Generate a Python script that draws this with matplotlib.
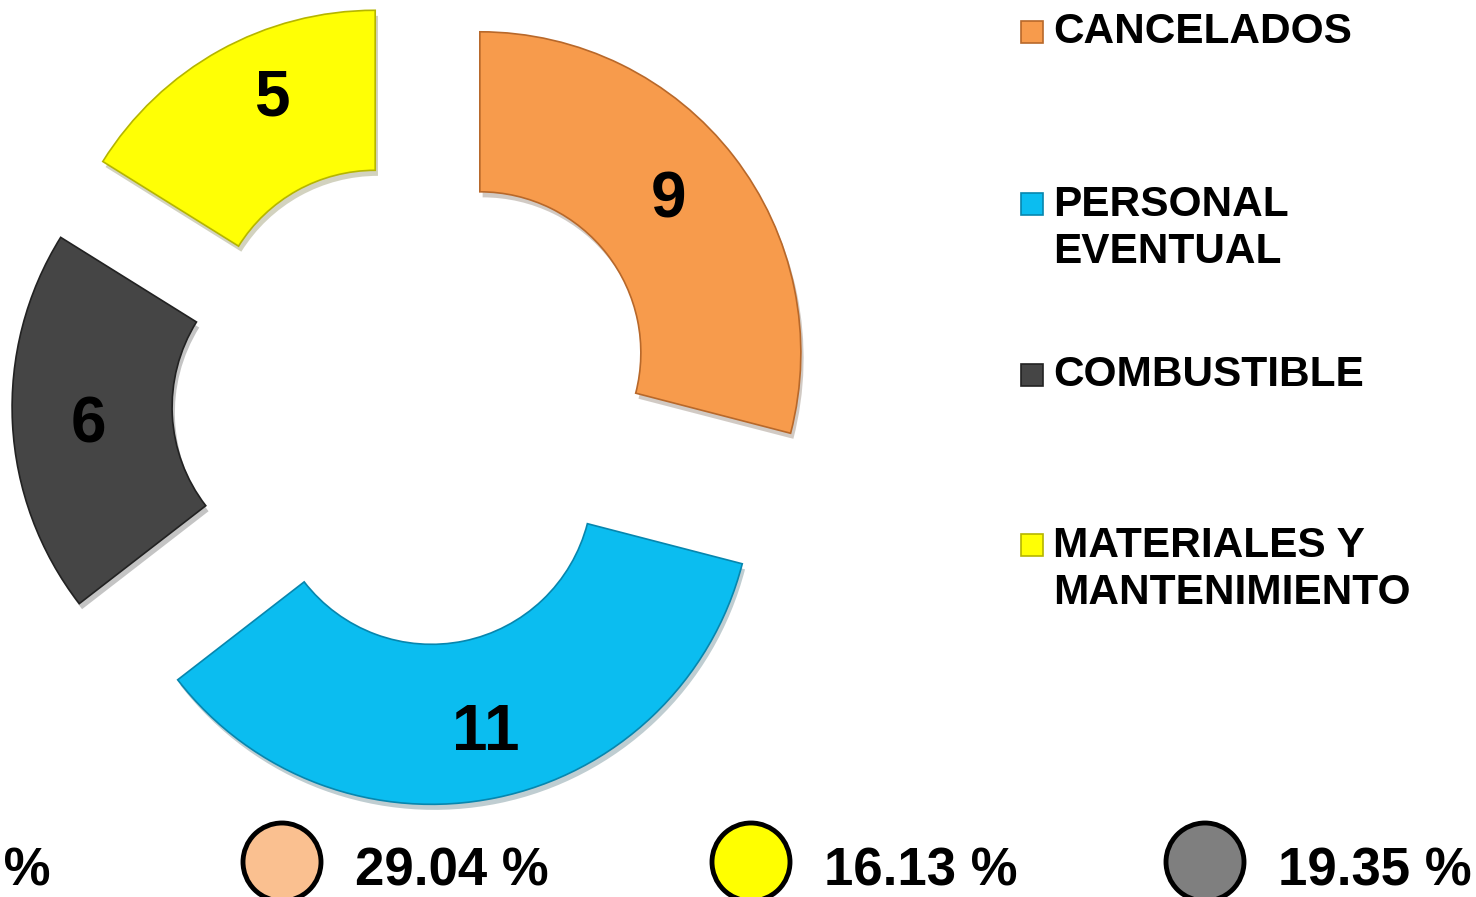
import matplotlib.pyplot as plt
import matplotlib.patheffects as pe
from matplotlib.patches import Rectangle, Ellipse

# data
categories = ['CANCELADOS', 'PERSONAL\nEVENTUAL', 'COMBUSTIBLE', 'MATERIALES Y\nMANTENIMIENTO']
values = [9, 11, 6, 5]
colors = ['#F79B4C', '#0BBDF0', '#454545', '#FFFF05']
edge_colors = ['#B8682A', '#0786AE', '#222222', '#B5B500']

pct_labels = ['35.48 %', '29.04 %', '16.13 %', '19.35 %']
pct_colors = ['#00B0F0', '#FAC090', '#FFFF00', '#7F7F7F']

W, H = 1476, 897
fig = plt.figure(figsize=(W / 100, H / 100), dpi=100)
ax = fig.add_axes([0, 0, 1, 1])

total = sum(values)
wedges, texts, autotexts = ax.pie(
    values, colors=colors, startangle=90, counterclock=False,
    center=(415, H - 403), radius=321, explode=[82] * len(values),
    wedgeprops=dict(width=160, linewidth=1.2),
    autopct=lambda p: f'{round(p * total / 100):d}', pctdistance=0.75,
    textprops=dict(fontsize=46, fontweight='bold', family='Liberation Sans', color='black'))

for w, ec in zip(wedges, edge_colors):
    w.set_edgecolor(ec)
    w.set_path_effects([pe.SimplePatchShadow(offset=(2, -4), alpha=0.25), pe.Normal()])

# nudge the value labels a little, like the original layout
label_shift = [(-2, 5), (6, -14), (-4, -6), (13, 22)]
for t, (dx, dy) in zip(autotexts, label_shift):
    x, y = t.get_position()
    t.set_position((x + dx, y + dy))

ax.set_xlim(0, W)
ax.set_ylim(0, H)
ax.set_aspect('equal')
ax.axis('off')

# legend on the right
legend_y = [32, 204, 375, 545]
for cat, c, ec, y in zip(categories, colors, edge_colors, legend_y):
    ax.add_patch(Rectangle((1021, H - y - 11), 22, 22, facecolor=c, edgecolor=ec, lw=1.2))
    nlines = cat.count('\n') + 1
    ax.text(1053, H - y - (nlines - 1) * 24.5, cat, fontsize=30.5, fontweight='bold',
            family='Liberation Sans', va='center', ha='left')

# percentage row at the bottom
circle_x = [-216, 282, 751, 1205]
for lab, c, x in zip(pct_labels, pct_colors, circle_x):
    ax.add_patch(Ellipse((x, H - 862), 78, 78, facecolor=c, edgecolor='black', lw=3.5, clip_on=False))
    ax.text(x + 73, H - 885, lab, fontsize=38, fontweight='bold',
            family='Liberation Sans', va='baseline', ha='left')

fig.savefig('out.png', dpi=100)
